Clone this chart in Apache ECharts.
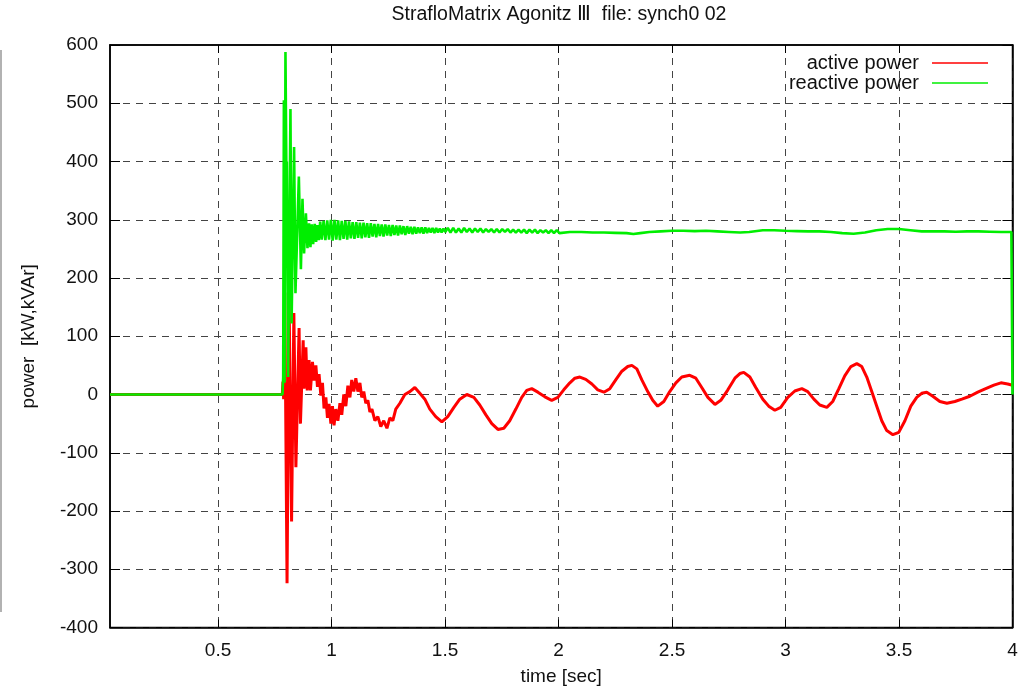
<!DOCTYPE html>
<html><head><meta charset="utf-8">
<script src="https://cdn.jsdelivr.net/npm/echarts@6/dist/echarts.min.js"></script>
<style>html,body{margin:0;padding:0;background:#fff}#c{width:1026px;height:686px}</style>
</head><body><div id="c"></div>
<script>
const titleText = 'StrafloMatrix Agonitz Ⅲ  file: synch0 02';
const seriesNames = ['active power', 'reactive power'];
const xTicks = [0.5, 1, 1.5, 2, 2.5, 3, 3.5, 4];
const yTicks = [-400, -300, -200, -100, 0, 100, 200, 300, 400, 500, 600];

const activePower = [
[0.024,0],[0.783,0],[0.786,22],[0.789,-8],[0.794,175],[0.804,-324],[0.813,165],[0.824,-218],[0.834,140],[0.843,-125],[0.857,114],[0.863,-50],[0.875,93],[0.879,10],[0.887,81],[0.893,7],[0.901,59],[0.907,7],[0.916,56],[0.923,24],[0.931,50],[0.938,13],[0.945,35],[0.953,-2],[0.960,20],[0.967,-24],[0.975,-5],[0.982,-40],[0.989,-16],[0.997,-50],[1.004,-20],[1.011,-53],[1.019,-25],[1.028,-45],[1.037,-15],[1.045,-35],[1.054,0],[1.063,-20],[1.072,15],[1.081,-5],[1.089,25],[1.098,5],[1.107,28],[1.116,5],[1.125,20],[1.133,-5],[1.142,5],[1.151,-15],[1.160,-10],[1.169,-30],[1.178,-25],[1.191,-45],[1.204,-38],[1.217,-55],[1.230,-45],[1.244,-58],[1.257,-40],[1.270,-45],[1.283,-25],[1.301,-15],
[1.323,0],[1.345,5],[1.367,12],[1.389,2],[1.411,-8],[1.433,-25],[1.459,-38],[1.486,-47],[1.512,-38],[1.539,-22],[1.565,-8],[1.596,0],[1.627,-5],[1.653,-18],[1.680,-35],[1.706,-50],[1.733,-60],[1.759,-58],[1.785,-45],[1.812,-25],[1.838,-5],[1.860,7],[1.882,10],[1.909,4],[1.940,-4],[1.970,-10],[1.997,-5],
[2.023,8],[2.050,20],[2.072,28],[2.094,30],[2.120,26],[2.147,18],[2.173,8],[2.200,4],[2.226,10],[2.252,25],[2.279,40],[2.305,48],[2.323,50],[2.345,44],[2.367,25],[2.393,5],[2.415,-10],[2.437,-20],[2.464,-12],[2.490,5],[2.517,20],[2.543,30],[2.578,33],[2.605,28],[2.631,12],[2.658,-5],[2.689,-17],[2.715,-10],[2.746,8],[2.777,28],[2.799,36],[2.816,38],[2.843,30],[2.869,12],[2.900,-8],[2.926,-20],[2.953,-27],[2.979,-22],
[3.010,-5],[3.041,6],[3.072,10],[3.098,5],[3.125,-8],[3.151,-18],[3.182,-22],[3.208,-12],[3.235,10],[3.261,32],[3.288,48],[3.314,53],[3.336,48],[3.358,30],[3.380,5],[3.402,-20],[3.424,-45],[3.446,-62],[3.473,-69],[3.499,-65],[3.526,-45],[3.552,-20],[3.578,-5],[3.600,2],[3.622,4],[3.649,-3],[3.680,-12],[3.711,-15],[3.746,-12],[3.777,-8],[3.812,-3],[3.847,4],[3.882,10],[3.918,16],[3.949,20],[3.979,18],[4.000,16]
];

const reactivePower = [
[0.024,0],[0.784,0],[0.787,30],[0.790,505],[0.793,20],[0.797,588],[0.801,385],[0.803,400],[0.809,30],[0.819,490],[0.824,122],[0.835,425],[0.841,174],[0.856,374],[0.865,215],[0.872,336],[0.879,242],[0.887,311],[0.894,251],[0.901,294],[0.907,253],[0.913,292],[0.919,258],[0.926,293],[0.932,262],[0.938,291],[0.944,265],[0.950,297],[0.957,266],
[0.965,298],[0.973,265],[0.981,299],[0.989,266],[0.997,300],[1.005,264],[1.013,300],[1.021,266],[1.029,299],[1.037,265],[1.045,298],[1.053,267],[1.061,298],[1.069,266],[1.077,297],[1.085,268],[1.093,296],[1.101,267],[1.109,296],[1.117,269],[1.125,295],[1.133,268],[1.141,295],[1.149,270],[1.157,294],[1.165,269],[1.173,294],[1.181,271],[1.189,293],[1.197,270],[1.205,293],[1.213,272],[1.221,292],[1.229,271],[1.237,292],[1.245,273],[1.253,291],[1.261,272],[1.269,291],[1.277,274],[1.285,290],[1.293,273],[1.301,290],[1.309,275],[1.317,289],[1.325,274],[1.333,289],[1.341,276],[1.349,288],[1.357,275],[1.365,288],[1.373,276],[1.381,287],[1.389,277],[1.397,287],[1.405,276],[1.413,287],[1.421,277],[1.429,286],[1.437,278],[1.445,286],[1.453,277],[1.461,286],[1.469,278],[1.477,285],[1.485,278],[1.493,285],[1.501,279],
[1.512,286],[1.524,278],[1.536,286],[1.548,278],[1.560,285],[1.572,278],[1.584,286],[1.596,279],[1.608,285],[1.620,278],[1.632,285],[1.644,279],[1.656,285],[1.668,278],[1.680,284],[1.692,279],[1.704,284],[1.716,278],[1.728,284],[1.740,278],[1.752,284],[1.764,279],[1.776,284],[1.788,278],[1.800,283],[1.812,278],[1.824,283],[1.836,278],[1.848,283],[1.860,277],[1.872,283],[1.884,278],[1.896,283],[1.908,277],[1.920,282],[1.932,278],[1.944,282],[1.956,277],[1.968,282],[1.980,277],[1.992,282],[2.004,277],
[2.05,279],[2.10,279],[2.15,278],[2.20,278],[2.25,277.5],[2.30,277],[2.33,275.5],[2.36,277],[2.40,279],[2.45,280],[2.50,281],[2.55,281],[2.60,280.5],[2.65,281],[2.70,280],[2.75,279],[2.80,278],[2.84,279],[2.90,282],[2.95,282],[3.00,281],[3.05,280.5],[3.10,280],[3.15,280],[3.20,279],[3.25,277],[3.30,276],[3.35,278],[3.40,282],[3.45,284],[3.50,284],[3.55,282],[3.60,280],[3.65,280],[3.70,280],[3.75,279.5],[3.80,280],[3.85,280],[3.90,279.5],[3.95,279],[3.995,279],[4.0,0]
];

const FONT = "'Liberation Sans', Arial, sans-serif";
const chart = echarts.init(document.getElementById('c'), null, {renderer: 'canvas'});
const xBase = {
  type: 'value', min: 0.024, max: 4,
  axisLine: {show: true, onZero: false, lineStyle: {color: '#000', width: 1.5}},
  axisTick: {show: true, inside: true, length: 8, customValues: xTicks, lineStyle: {color: '#000'}},
  axisLabel: {customValues: xTicks, color: '#111', fontSize: 19, fontFamily: FONT, margin: 14},
  splitLine: {show: true, lineStyle: {color: '#444', type: [7, 6], width: 1}}
};
const yBase = {
  type: 'value', min: -400, max: 600, interval: 100,
  axisLine: {show: true, onZero: false, lineStyle: {color: '#000', width: 1.5}},
  axisTick: {show: true, inside: true, length: 10, lineStyle: {color: '#000'}},
  axisLabel: {color: '#111', fontSize: 19, fontFamily: FONT, margin: 12},
  splitLine: {show: true, lineStyle: {color: '#444', type: [7, 6], width: 1}}
};
chart.setOption({
  animation: false,
  backgroundColor: '#fff',
  title: {text: titleText, left: 559, textAlign: 'center', top: 5, padding: 0,
    textStyle: {fontSize: 19.5, fontWeight: 'normal', color: '#111', fontFamily: FONT}},
  legend: {orient: 'vertical', right: 38, top: 53, align: 'right', icon: 'rect',
    itemWidth: 56, itemHeight: 1.5, itemGap: 0, padding: 0,
    textStyle: {fontSize: 20, lineHeight: 19, color: '#111', fontFamily: FONT, padding: [0, 8, 0, 0]},
    data: seriesNames},
  grid: {left: 110, right: 13.5, top: 45, bottom: 58.5, show: true, borderColor: '#000', borderWidth: 1.5,
    containLabel: false, outerBoundsMode: 'none'},
  xAxis: [
    Object.assign({}, xBase, {position: 'bottom', name: 'time [sec]', nameLocation: 'middle', nameGap: 40,
      nameTextStyle: {fontSize: 19, color: '#111', fontFamily: FONT}}),
    Object.assign({}, xBase, {position: 'top', axisLabel: {show: false}, splitLine: {show: false}})
  ],
  yAxis: [
    Object.assign({}, yBase, {position: 'left', name: 'power  [kW,kVAr]', nameLocation: 'middle', nameGap: 72, nameRotate: 90,
      nameTextStyle: {fontSize: 19, color: '#111', fontFamily: FONT}}),
    Object.assign({}, yBase, {position: 'right', axisLabel: {show: false}, splitLine: {show: false}})
  ],
  graphic: [{type: 'line', shape: {x1: 1, y1: 50, x2: 1, y2: 612}, style: {stroke: '#999', lineWidth: 1.5}, silent: true}],
  series: [
    {name: seriesNames[0], type: 'line', data: activePower, showSymbol: false, symbol: 'none',
      itemStyle: {color: '#ff0000'}, lineStyle: {color: '#ff0000', width: 3}},
    {name: seriesNames[1], type: 'line', data: reactivePower, showSymbol: false, symbol: 'none',
      itemStyle: {color: '#00ee00'}, lineStyle: {color: '#00ee00', width: 2.6}}
  ]
});
</script></body></html>
